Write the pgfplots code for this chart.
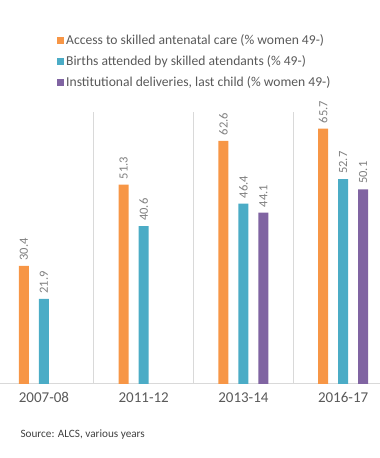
\documentclass[border=0pt]{standalone}
\usepackage{pgfplots}
\pgfplotsset{compat=1.18}
\usepackage{fontspec}
\setmainfont{Carlito}
\definecolor{cOr}{HTML}{F79646}
\definecolor{cTe}{HTML}{4BACC6}
\definecolor{cPu}{HTML}{8064A2}
\definecolor{txt}{HTML}{595959}
\definecolor{lbl}{HTML}{7F7F7F}
\definecolor{grd}{HTML}{D9D9D9}
\begin{document}
\begin{tikzpicture}[x=1pt,y=1pt]
\useasboundingbox (0,0) rectangle (380,458);
\begin{axis}[
  at={(0pt,74pt)}, anchor=south west,
  scale only axis, width=380pt, height=272pt,
  xmin=-0.441, xmax=3.37, ymin=0, ymax=70,
  ybar=10pt, bar width=10pt,
  axis x line*=bottom, axis y line=none,
  x axis line style={grd, line width=1pt},
  xtick={0,1,2,3}, xticklabels={2007-08,2011-12,2013-14,2016-17},
  major tick length=0pt,
  minor xtick={0.5,1.5,2.5}, minor tick length=0pt,
  xminorgrids, minor x grid style={grd, line width=0.8pt},
  xticklabel style={font=\fontsize{15}{18}\selectfont, text=txt, yshift=-5pt},
  nodes near coords, 
  every node near coord/.append style={rotate=90, anchor=west, font=\fontsize{12.5}{15}\selectfont, text=lbl, xshift=2pt},
  /pgf/number format/assume math mode=true,
  /pgf/number format/.cd, fixed, fixed zerofill, precision=1, /pgfplots/.cd,
  legend style={at={(0.15,1.292)}, anchor=north west, draw=none, fill=none,
    font=\fontsize{13.6}{16}\selectfont, text=txt, row sep=5.5pt,
    legend cell align=left, inner sep=0pt},
  legend image code/.code={\fill[#1,draw=none] (0pt,-3.5pt) rectangle (7pt,3.5pt);},
]
\addplot[fill=cOr, draw=none] coordinates {(0,30.4) (1,51.3) (2,62.6) (3,65.7)};
\addplot[fill=cTe, draw=none] coordinates {(0,21.9) (1,40.6) (2,46.4) (3,52.7)};
\addplot[fill=cPu, draw=none] coordinates {(2,44.1) (3,50.1)};
\legend{Access to skilled antenatal care (\% women 49-),Births attended by skilled atendants (\% 49-),{Institutional deliveries, last child (\% women 49-)}}
\end{axis}
\node[anchor=west, font=\fontsize{11.2}{13}\selectfont, text=black!75] at (17,23) {Source: ALCS, various years};
\end{tikzpicture}
\end{document}
